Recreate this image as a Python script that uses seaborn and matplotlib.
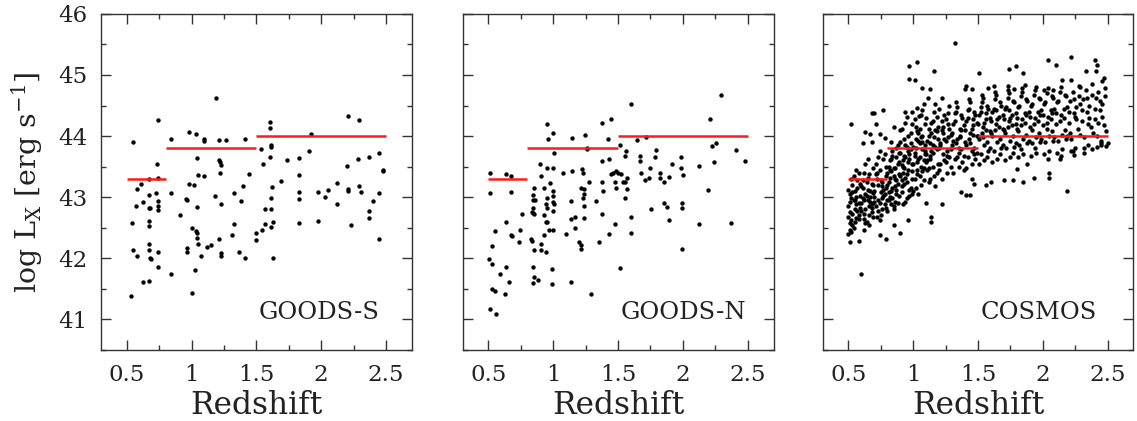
import seaborn as sns
import matplotlib.pyplot as plt
import matplotlib as mpl
from matplotlib.ticker import MultipleLocator
import pandas as pd

# mean log Lx in each redshift bin (red segments)
bin_lo = [0.5, 0.8, 1.5]
bin_hi = [0.8, 1.5, 2.5]
bin_lx = [43.3, 43.8, 44.0]

goods_s_z = [0.544, 0.738, 0.538, 0.528, 0.546, 0.577, 0.608, 0.572, 0.579, 0.621,
             0.628, 0.667, 0.672, 0.669, 0.679, 0.672, 0.672, 0.672, 0.672, 0.679,
             0.687, 0.672, 0.723, 0.736, 0.744, 0.741, 0.741, 0.741, 0.741, 0.744,
             0.841, 0.841, 0.841, 0.910, 0.982, 0.982, 1.018, 0.959, 0.967, 1.000,
             1.033, 1.038, 1.044, 1.051, 0.962, 0.962, 1.000, 1.026, 1.033, 1.038,
             1.051, 1.092, 1.038, 1.072, 1.097, 1.097, 1.115, 1.146, 1.185, 1.182,
             1.210, 1.264, 1.210, 1.218, 1.223, 1.218, 1.226, 1.210, 1.226, 1.226,
             1.313, 1.328, 1.328, 1.367, 1.379, 1.397, 1.410, 1.413, 1.441, 1.500,
             1.500, 1.538, 1.551, 1.546, 1.564, 1.564, 1.603, 1.603, 1.615, 1.615,
             1.608, 1.623, 1.610, 1.615, 1.610, 1.628, 1.628, 1.692, 1.736, 1.831,
             1.831, 1.831, 1.831, 1.831, 1.903, 1.923, 1.974, 1.974, 2.028, 2.049,
             2.123, 2.123, 2.205, 2.200, 2.205, 2.205, 2.226, 2.285, 2.295, 2.295,
             2.308, 2.367, 2.367, 2.367, 2.403, 2.449, 2.449, 2.449, 2.474, 2.474]
goods_s_lx = [43.91, 44.27, 42.57, 41.38, 42.13, 43.13, 43.22, 42.85, 42.03, 41.61,
              42.92, 43.03, 43.29, 42.83, 42.82, 42.61, 42.53, 42.24, 42.14, 42.01,
              41.99, 41.62, 43.06, 43.55, 43.32, 42.93, 42.86, 42.79, 42.11, 41.85,
              43.95, 43.06, 41.74, 42.70, 44.07, 43.22, 43.20, 42.97, 42.95, 42.50,
              42.45, 42.41, 42.33, 42.23, 42.16, 42.11, 41.43, 41.80, 44.04, 43.64,
              43.36, 43.35, 42.84, 42.04, 43.96, 43.92, 42.18, 42.22, 44.62, 43.02,
              43.93, 43.93, 43.61, 43.57, 43.52, 43.39, 42.88, 42.32, 42.09, 42.03,
              42.38, 43.06, 42.56, 42.10, 42.93, 43.18, 43.95, 42.01, 43.38, 42.42,
              42.30, 43.78, 43.55, 42.47, 42.56, 42.80, 44.23, 44.14, 43.85, 43.82,
              43.65, 43.16, 42.98, 42.80, 42.51, 42.60, 42.01, 43.27, 43.61, 43.64,
              43.36, 43.09, 42.97, 42.58, 43.76, 44.03, 43.09, 42.61, 43.01, 43.11,
              43.23, 42.89, 44.33, 43.51, 43.13, 43.10, 42.55, 43.62, 44.27, 43.18,
              43.09, 43.65, 42.78, 42.66, 42.93, 43.73, 43.07, 42.32, 43.45, 43.42]

goods_n_z = [0.510, 0.515, 0.633, 0.672, 0.672, 0.551, 0.526, 0.508, 0.531, 0.526,
             0.554, 0.510, 0.556, 0.633, 0.633, 0.590, 0.659, 0.628, 0.674, 0.679,
             0.744, 0.738, 0.759, 0.833, 0.841, 0.844, 0.859, 0.844, 0.841, 0.854,
             0.831, 0.838, 0.849, 0.841, 0.849, 0.885, 0.841, 0.849, 0.900, 0.908,
             0.949, 0.956, 0.951, 0.931, 0.972, 0.951, 0.941, 0.954, 0.931, 0.941,
             0.951, 0.931, 0.967, 0.905, 0.905, 0.941, 0.997, 1.003, 1.000, 0.997,
             0.997, 0.997, 1.003, 0.997, 0.997, 0.990, 0.987, 1.074, 1.097, 1.141,
             1.141, 1.136, 1.136, 1.167, 1.167, 1.197, 1.213, 1.213, 1.136, 1.223,
             1.228, 1.218, 1.238, 1.238, 1.226, 1.238, 1.238, 1.244, 1.259, 1.259,
             1.279, 1.295, 1.333, 1.354, 1.374, 1.377, 1.374, 1.385, 1.377, 1.426,
             1.433, 1.444, 1.444, 1.459, 1.428, 1.474, 1.485, 1.479, 1.487, 1.500,
             1.515, 1.521, 1.538, 1.551, 1.556, 1.564, 1.572, 1.569, 1.556, 1.515,
             1.603, 1.603, 1.597, 1.644, 1.669, 1.667, 1.679, 1.705, 1.713, 1.736,
             1.749, 1.756, 1.782, 1.795, 1.826, 1.826, 1.854, 1.854, 1.877, 1.897,
             1.897, 1.915, 1.987, 1.987, 2.000, 1.992, 1.992, 1.997, 2.128, 2.128,
             2.197, 2.213, 2.226, 2.256, 2.238, 2.295, 2.374, 2.410, 2.479]
goods_n_lx = [43.40, 43.06, 43.38, 43.34, 43.08, 42.45, 42.20, 41.98, 41.91, 41.49,
              41.47, 41.17, 41.09, 42.60, 41.86, 41.74, 41.61, 41.42, 42.38, 42.37,
              42.46, 42.27, 42.73, 42.75, 43.03, 42.96, 42.96, 42.83, 42.74, 42.73,
              42.32, 42.29, 42.13, 41.86, 41.69, 41.65, 41.59, 43.15, 43.55, 43.34,
              44.19, 43.95, 43.47, 43.15, 43.23, 42.98, 42.89, 42.83, 42.70, 42.60,
              42.60, 42.38, 42.46, 42.23, 42.13, 42.11, 44.05, 43.73, 43.47, 43.10,
              43.02, 42.92, 42.89, 42.78, 42.46, 41.83, 41.58, 43.40, 42.39, 43.97,
              43.42, 42.93, 42.65, 42.67, 42.50, 42.27, 42.21, 42.15, 41.61, 43.46,
              43.39, 43.15, 43.13, 43.05, 42.98, 42.85, 42.66, 44.02, 43.81, 43.78,
              43.25, 41.41, 42.93, 42.26, 44.21, 43.59, 43.25, 43.10, 42.72, 43.95,
              43.62, 44.28, 43.38, 43.40, 42.40, 43.25, 43.15, 42.56, 43.42, 43.40,
              43.86, 43.38, 43.25, 43.25, 43.67, 43.76, 43.32, 43.14, 42.99, 41.84,
              44.53, 42.67, 42.42, 43.93, 43.67, 43.59, 43.40, 43.28, 43.98, 43.31,
              43.47, 42.80, 43.65, 43.77, 43.40, 43.32, 43.25, 42.91, 42.84, 43.33,
              42.63, 43.54, 43.65, 43.47, 43.37, 42.91, 42.82, 42.15, 43.51, 42.56,
              43.11, 44.28, 43.84, 43.88, 43.58, 44.67, 42.57, 43.77, 43.59]

# COSMOS: bulk of the cloud, read bin by bin
cosmos_core_z = [
    0.50, 0.51, 0.52, 0.50, 0.53, 0.54, 0.51, 0.55, 0.56, 0.52,
    0.57, 0.58, 0.53, 0.59, 0.55, 0.50, 0.56, 0.58, 0.51, 0.54,
    0.57, 0.59, 0.52, 0.55, 0.53, 0.56, 0.58, 0.50, 0.54, 0.57,
    0.59, 0.51, 0.55, 0.53, 0.58, 0.56,
    0.60, 0.61, 0.62, 0.63, 0.64, 0.65, 0.66, 0.67, 0.68, 0.69,
    0.61, 0.62, 0.63, 0.64, 0.65, 0.66, 0.67, 0.68, 0.69, 0.60,
    0.62, 0.64, 0.66, 0.68, 0.61, 0.63, 0.65, 0.67, 0.69, 0.60,
    0.63, 0.66, 0.69, 0.62, 0.65, 0.68,
    0.70, 0.71, 0.72, 0.73, 0.74, 0.75, 0.76, 0.77, 0.78, 0.79,
    0.71, 0.73, 0.75, 0.77, 0.79, 0.70, 0.72, 0.74, 0.76, 0.78,
    0.70, 0.73, 0.76, 0.79, 0.72, 0.75, 0.78, 0.71, 0.74, 0.77,
    0.73, 0.76, 0.79, 0.74,
    0.80, 0.81, 0.82, 0.83, 0.84, 0.85, 0.86, 0.87, 0.88, 0.89,
    0.80, 0.81, 0.82, 0.83, 0.84, 0.85, 0.86, 0.87, 0.88, 0.89,
    0.81, 0.83, 0.85, 0.87, 0.89, 0.80, 0.82, 0.84, 0.86, 0.88,
    0.81, 0.83, 0.85, 0.87, 0.89, 0.80, 0.82, 0.84, 0.86, 0.88,
    0.83, 0.87,
    0.90, 0.91, 0.92, 0.93, 0.94, 0.95, 0.96, 0.97, 0.98, 0.99,
    0.90, 0.91, 0.92, 0.93, 0.94, 0.95, 0.96, 0.97, 0.98, 0.99,
    0.91, 0.93, 0.95, 0.97, 0.99, 0.90, 0.92, 0.94, 0.96, 0.98,
    0.91, 0.93, 0.95, 0.97, 0.99, 0.90, 0.92, 0.94, 0.96, 0.98,
    1.00, 1.01, 1.02, 1.03, 1.04, 1.05, 1.06, 1.07, 1.08, 1.09,
    1.00, 1.01, 1.02, 1.03, 1.04, 1.05, 1.06, 1.07, 1.08, 1.09,
    1.01, 1.03, 1.05, 1.07, 1.09, 1.00, 1.02, 1.04, 1.06, 1.08,
    1.01, 1.03, 1.05, 1.07, 1.09, 1.02, 1.04, 1.06,
    1.10, 1.11, 1.12, 1.13, 1.14, 1.15, 1.16, 1.17, 1.18, 1.19,
    1.10, 1.11, 1.12, 1.13, 1.14, 1.15, 1.16, 1.17, 1.18, 1.19,
    1.11, 1.13, 1.15, 1.17, 1.19, 1.10, 1.12, 1.14, 1.16, 1.18,
    1.12, 1.15, 1.18, 1.13,
    1.20, 1.21, 1.22, 1.23, 1.24, 1.25, 1.26, 1.27, 1.28, 1.29,
    1.20, 1.21, 1.22, 1.23, 1.24, 1.25, 1.26, 1.27, 1.28, 1.29,
    1.21, 1.23, 1.25, 1.27, 1.29, 1.20, 1.22, 1.24, 1.26, 1.28,
    1.30, 1.31, 1.32, 1.33, 1.34, 1.35, 1.36, 1.37, 1.38, 1.39,
    1.30, 1.31, 1.32, 1.33, 1.34, 1.35, 1.36, 1.37, 1.38, 1.39,
    1.31, 1.33, 1.35, 1.37, 1.39, 1.32, 1.34, 1.36,
    1.40, 1.41, 1.42, 1.43, 1.44, 1.45, 1.46, 1.47, 1.48, 1.49,
    1.40, 1.41, 1.42, 1.43, 1.44, 1.45, 1.46, 1.47, 1.48, 1.49,
    1.41, 1.43, 1.45, 1.47, 1.49, 1.42, 1.44, 1.46,
    1.50, 1.51, 1.52, 1.53, 1.54, 1.55, 1.56, 1.57, 1.58, 1.59,
    1.50, 1.51, 1.52, 1.53, 1.54, 1.55, 1.56, 1.57, 1.58, 1.59,
    1.51, 1.53, 1.55, 1.57, 1.59, 1.52, 1.54, 1.56,
    1.60, 1.61, 1.62, 1.63, 1.64, 1.65, 1.66, 1.67, 1.68, 1.69,
    1.60, 1.61, 1.62, 1.63, 1.64, 1.65, 1.66, 1.67, 1.68, 1.69,
    1.61, 1.63, 1.65, 1.67, 1.69, 1.64,
    1.70, 1.71, 1.72, 1.73, 1.74, 1.75, 1.76, 1.77, 1.78, 1.79,
    1.70, 1.71, 1.72, 1.73, 1.74, 1.75, 1.76, 1.77, 1.78, 1.79,
    1.71, 1.73, 1.75, 1.77, 1.79, 1.74,
    1.80, 1.81, 1.82, 1.83, 1.84, 1.85, 1.86, 1.87, 1.88, 1.89,
    1.80, 1.81, 1.82, 1.83, 1.84, 1.85, 1.86, 1.87, 1.88, 1.89,
    1.81, 1.84, 1.87, 1.83,
    1.90, 1.91, 1.92, 1.93, 1.94, 1.95, 1.96, 1.97, 1.98, 1.99,
    1.90, 1.91, 1.92, 1.93, 1.94, 1.95, 1.96, 1.97, 1.98, 1.99,
    1.92, 1.95, 1.98, 1.94,
    2.00, 2.01, 2.02, 2.03, 2.04, 2.05, 2.06, 2.07, 2.08, 2.09,
    2.00, 2.01, 2.02, 2.03, 2.04, 2.05, 2.06, 2.07, 2.08, 2.09,
    2.03, 2.07,
    2.10, 2.11, 2.12, 2.13, 2.14, 2.15, 2.16, 2.17, 2.18, 2.19,
    2.10, 2.11, 2.12, 2.13, 2.14, 2.15, 2.16, 2.17, 2.18, 2.19,
    2.20, 2.21, 2.22, 2.23, 2.24, 2.25, 2.26, 2.27, 2.28, 2.29,
    2.20, 2.22, 2.24, 2.26, 2.28, 2.21, 2.25, 2.29,
    2.30, 2.31, 2.32, 2.33, 2.34, 2.35, 2.36, 2.37, 2.38, 2.39,
    2.30, 2.32, 2.34, 2.36, 2.38, 2.35,
    2.40, 2.41, 2.42, 2.43, 2.44, 2.45, 2.46, 2.47, 2.48, 2.49,
    2.40, 2.42, 2.44, 2.46, 2.48, 2.43]
cosmos_core_lx = [
    42.85, 43.05, 42.62, 42.40, 43.20, 42.95, 42.75, 43.10, 42.88, 42.98,
    43.28, 42.70, 42.55, 43.02, 42.80, 43.12, 42.66, 43.40, 42.92, 42.50,
    43.15, 42.82, 43.30, 42.60, 42.72, 43.00, 42.90, 42.68, 43.35, 42.78,
    43.22, 42.58, 42.95, 43.08, 42.65, 43.45,
    42.90, 43.15, 42.72, 43.05, 42.60, 43.32, 42.85, 43.00, 43.22, 42.68,
    42.98, 43.40, 42.80, 43.25, 42.95, 42.55, 43.10, 42.75, 43.48, 43.18,
    42.65, 43.02, 43.38, 42.88, 43.28, 42.58, 43.12, 42.92, 43.06, 42.78,
    43.55, 42.70, 43.20, 42.96, 43.62, 42.83,
    43.10, 42.85, 43.30, 42.95, 43.45, 42.70, 43.18, 43.02, 42.88, 43.35,
    43.55, 42.78, 43.08, 43.62, 43.15, 42.92, 43.40, 42.62, 43.25, 43.70,
    43.00, 43.20, 42.80, 43.50, 42.68, 43.28, 43.05, 43.38, 42.90, 43.12,
    43.65, 42.98, 42.82, 43.75,
    43.20, 42.95, 43.45, 43.10, 43.68, 42.85, 43.30, 43.05, 43.55, 43.38,
    42.78, 43.25, 43.00, 43.62, 43.15, 43.48, 42.92, 43.80, 43.22, 43.02,
    43.50, 42.88, 43.35, 43.12, 43.72, 43.40, 43.60, 42.98, 43.18, 43.85,
    43.08, 43.42, 42.80, 43.28, 43.58, 42.96, 43.32, 43.75, 43.48, 42.90,
    43.90, 43.65,
    43.35, 43.08, 43.60, 43.22, 43.85, 42.98, 43.45, 43.70, 43.15, 43.55,
    43.90, 43.28, 42.88, 43.48, 43.65, 43.38, 44.00, 43.12, 43.78, 43.30,
    43.52, 43.95, 43.25, 43.62, 43.05, 43.72, 43.40, 42.92, 43.58, 43.88,
    43.18, 43.68, 43.82, 43.02, 43.42, 44.10, 43.50, 43.32, 43.75, 44.05,
    43.55, 43.30, 43.80, 43.45, 44.05, 43.65, 43.20, 43.90, 43.60, 44.20,
    43.10, 43.72, 43.95, 43.38, 43.62, 44.12, 43.50, 43.78, 43.28, 43.85,
    44.28, 43.58, 43.35, 44.00, 43.70, 43.82, 43.15, 43.92, 44.35, 43.48,
    43.68, 44.08, 43.88, 43.42, 43.75, 44.15, 43.05, 43.98,
    43.70, 43.45, 44.00, 43.62, 44.22, 43.85, 43.35, 44.10, 43.78, 43.55,
    44.30, 43.92, 43.25, 43.68, 44.05, 43.50, 44.40, 43.82, 43.40, 44.15,
    43.60, 43.88, 44.25, 43.18, 43.95, 43.58, 44.12, 43.75, 43.98, 44.32,
    43.48, 43.72, 44.08, 43.30,
    43.80, 43.55, 44.10, 43.70, 44.35, 43.92, 43.40, 44.20, 43.65, 44.02,
    44.45, 43.85, 43.30, 44.15, 43.60, 44.28, 43.75, 43.98, 44.50, 43.50,
    43.88, 44.05, 43.58, 44.38, 43.78, 43.45, 44.25, 43.95, 43.68, 44.12,
    43.85, 44.20, 43.62, 44.40, 43.95, 43.50, 44.12, 43.78, 44.30, 43.68,
    44.05, 43.40, 44.25, 43.88, 44.48, 43.72, 44.00, 44.35, 43.58, 44.18,
    43.92, 44.55, 43.80, 44.10, 43.45, 44.38, 43.65, 43.98,
    43.90, 44.25, 43.65, 44.45, 44.05, 43.55, 44.18, 43.80, 44.35, 43.72,
    44.10, 43.48, 44.30, 43.95, 44.55, 43.75, 44.02, 44.40, 43.62, 44.22,
    43.85, 44.60, 44.12, 43.70, 44.00, 44.42, 43.88, 44.28,
    44.00, 44.35, 43.70, 44.55, 44.15, 43.60, 44.28, 43.90, 44.45, 43.80,
    44.20, 43.55, 44.40, 44.05, 44.62, 43.85, 44.10, 44.50, 43.75, 44.30,
    43.95, 44.68, 44.22, 43.65, 44.08, 44.48, 43.98, 44.38,
    44.05, 44.40, 43.75, 44.60, 44.20, 43.62, 44.32, 43.95, 44.50, 43.85,
    44.25, 43.58, 44.45, 44.10, 44.68, 43.90, 44.15, 44.55, 43.80, 44.35,
    44.00, 44.72, 44.28, 43.70, 44.12, 44.42,
    44.10, 44.45, 43.80, 44.62, 44.25, 43.65, 44.35, 44.00, 44.55, 43.88,
    44.28, 43.60, 44.48, 44.15, 44.70, 43.92, 44.18, 44.58, 43.82, 44.38,
    44.05, 44.75, 44.30, 43.72, 44.20, 44.42,
    44.12, 44.48, 43.85, 44.65, 44.28, 43.70, 44.38, 44.02, 44.58, 43.92,
    44.30, 43.65, 44.50, 44.18, 44.72, 43.95, 44.22, 44.60, 43.88, 44.40,
    44.08, 44.78, 44.35, 43.78,
    44.15, 44.50, 43.88, 44.68, 44.30, 43.72, 44.40, 44.05, 44.60, 43.95,
    44.32, 43.68, 44.52, 44.20, 44.75, 43.98, 44.25, 44.62, 43.90, 44.42,
    44.10, 44.80, 44.35, 43.80,
    44.18, 44.52, 43.90, 44.70, 44.32, 43.75, 44.42, 44.08, 44.62, 43.98,
    44.35, 43.70, 44.55, 44.22, 44.78, 44.00, 44.28, 44.65, 43.92, 44.45,
    44.12, 44.38,
    44.20, 44.55, 43.92, 44.72, 44.35, 43.78, 44.45, 44.10, 44.65, 44.00,
    44.38, 43.72, 44.58, 44.25, 44.80, 44.02, 44.30, 44.68, 43.95, 44.48,
    44.22, 44.58, 43.95, 44.72, 44.38, 43.80, 44.48, 44.12, 44.65, 44.02,
    44.40, 43.75, 44.60, 44.28, 44.82, 44.05, 44.32, 44.52,
    44.25, 44.60, 43.98, 44.75, 44.40, 43.85, 44.50, 44.15, 44.68, 44.05,
    44.42, 43.80, 44.62, 44.30, 44.85, 44.20,
    44.28, 44.62, 44.00, 44.72, 44.42, 43.88, 44.52, 44.18, 44.65, 44.08,
    44.45, 43.82, 44.58, 44.32, 44.78, 44.22]

# COSMOS: sparse points around the edge of the cloud
cosmos_edge_z = [0.52, 0.68, 0.70, 0.77, 0.71, 0.97, 1.03, 0.97, 1.01, 1.16,
                 1.065, 1.13, 1.115, 1.226, 1.085, 1.167, 1.026, 1.07, 0.936, 0.99,
                 1.044, 0.95, 0.936, 0.99, 0.915, 0.85, 0.63, 0.667, 0.74, 0.615,
                 0.68, 0.78, 1.32, 1.40, 1.45, 1.41, 1.51, 1.74, 1.79, 1.85,
                 2.04, 2.10, 2.22, 2.40, 2.42, 2.41, 2.33, 2.46, 2.47, 2.15,
                 2.22, 2.29, 1.86, 1.73, 1.78, 1.58, 1.62, 2.01, 2.08,
                 0.60, 0.51, 0.58, 0.51, 0.52, 0.62, 0.74, 0.79, 0.90, 0.85,
                 0.96, 1.14, 1.14, 1.22, 1.10, 1.37, 1.41, 1.44, 1.56, 1.60,
                 1.70, 1.77, 1.85, 1.93, 2.05, 2.05, 2.19, 1.47, 1.45, 1.80,
                 1.88, 2.04, 2.13, 2.14, 2.23, 2.24, 2.32, 2.45, 2.49, 2.50,
                 2.38, 2.45]
cosmos_edge_lx = [44.19, 44.38, 44.37, 44.42, 44.19, 45.14, 45.21, 44.93, 44.92, 45.06,
                  44.79, 44.77, 44.63, 44.63, 44.52, 44.53, 44.46, 44.42, 44.40, 44.40,
                  44.33, 44.31, 44.22, 44.20, 44.11, 44.15, 44.07, 44.03, 44.03, 43.89,
                  43.91, 43.97, 45.52, 44.77, 44.77, 44.82, 45.03, 45.10, 45.14, 45.03,
                  45.25, 45.17, 45.29, 45.25, 45.17, 45.06, 45.06, 44.90, 44.95, 44.91,
                  44.91, 44.80, 44.84, 44.82, 44.77, 44.79, 44.82, 44.76, 44.76,
                  41.74, 42.26, 42.28, 42.47, 42.43, 42.47, 42.38, 42.32, 42.42, 42.54,
                  42.63, 42.67, 42.60, 42.89, 42.91, 43.08, 43.03, 43.03, 43.20, 43.25,
                  43.28, 43.28, 43.25, 43.32, 43.32, 43.40, 43.10, 43.21, 43.29, 43.46,
                  43.55, 43.62, 43.62, 43.67, 43.76, 43.69, 43.72, 43.92, 43.84, 43.89,
                  43.79, 43.85]

fields = ["GOODS-S", "GOODS-N", "COSMOS"]

sns.set_style("ticks")
plt.rcParams['font.family'] = ['DejaVu Serif']
plt.rcParams['mathtext.fontset'] = 'dejavuserif'

samples = {
    "GOODS-S": pd.DataFrame({"z": goods_s_z, "lx": goods_s_lx}),
    "GOODS-N": pd.DataFrame({"z": goods_n_z, "lx": goods_n_lx}),
    "COSMOS": pd.DataFrame({"z": cosmos_core_z + cosmos_edge_z,
                            "lx": cosmos_core_lx + cosmos_edge_lx}),
}

fig = plt.figure(figsize=(11.37, 4.21), dpi=100)
lefts = [0.0888, 0.4068, 0.7234]

for i, name in enumerate(fields):
    ax = fig.add_axes([lefts[i], 0.169, 0.2735, 0.798])
    sns.scatterplot(data=samples[name], x="z", y="lx", ax=ax, color="black",
                    s=10, linewidth=0, legend=False, zorder=3)
    ax.hlines(bin_lx, bin_lo, bin_hi, colors="#ff1a1a", linewidth=1.8, zorder=4)

    ax.set_xlim(0.3, 2.7)
    ax.set_ylim(40.5, 46)
    ax.set_xticks([0.5, 1, 1.5, 2, 2.5])
    ax.set_xticklabels(["0.5", "1", "1.5", "2", "2.5"])
    ax.xaxis.set_minor_locator(MultipleLocator(0.25))
    ax.yaxis.set_major_locator(MultipleLocator(1))
    ax.yaxis.set_minor_locator(MultipleLocator(0.5))
    ax.tick_params(which="both", direction="in", top=True, right=True,
                   labelsize=16.5, width=1, color="#333333", labelcolor="#222222")
    ax.tick_params(which="major", length=7)
    ax.tick_params(which="minor", length=3.5)
    ax.tick_params(axis="x", pad=10)
    ax.tick_params(axis="y", pad=10)
    for sp in ax.spines.values():
        sp.set_linewidth(1.0)
        sp.set_color("#333333")

    ax.set_xlabel("Redshift", fontsize=22.5, labelpad=3, color="#222222")
    if i == 0:
        ax.set_ylabel(r"log L$_{\rm X}$ [erg s$^{-1}$]", fontsize=20.5,
                      labelpad=9, color="#222222")
    else:
        ax.set_ylabel("")
        ax.set_yticklabels([])

    ax.text(1.52, 41.0, name, fontsize=17.5, ha="left", va="baseline",
            color="#222222")

plt.savefig("out.png", dpi=100)
